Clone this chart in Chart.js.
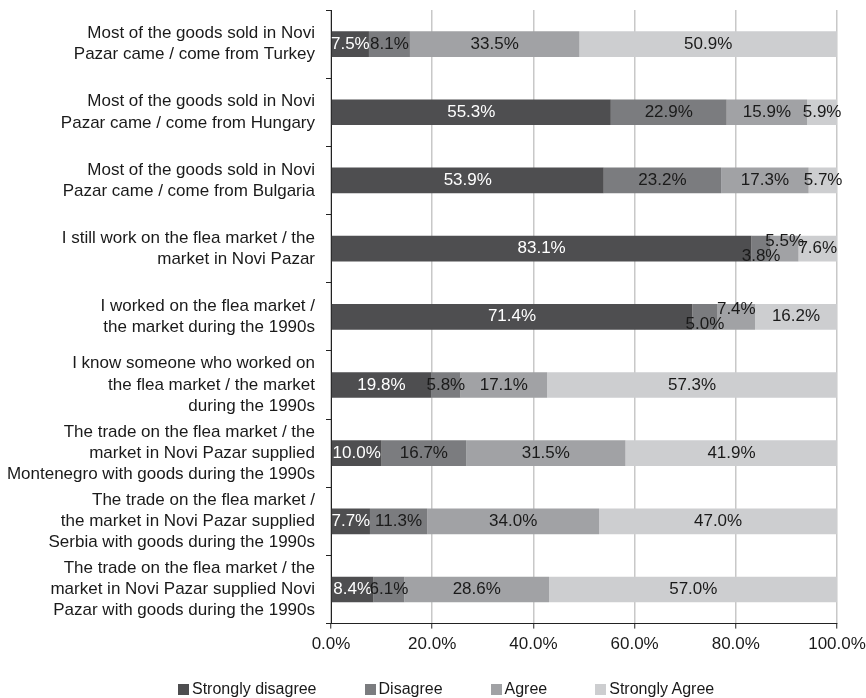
<!DOCTYPE html>
<html>
<head>
<meta charset="utf-8">
<script src="https://cdn.jsdelivr.net/npm/chart.js@4"></script>
<style>
    body { margin: 0; background: #fff; }
    #wrap { position: relative; width: 866px; height: 698px; }
    #legend {
        position: absolute; left: 178px; top: 680px;
        display: flex; gap: 48px;
        font: 16px "Liberation Sans", Arial, sans-serif; color: #1a1a1a; line-height: 18px;
    }
    #legend .item { display: flex; align-items: center; }
    #legend .box { width: 11px; height: 11px; margin-right: 3px; }
</style>
</head>
<body>
<div id="wrap">
    <canvas id="myChart" width="866" height="698"></canvas>
    <div id="legend"></div>
</div>
<script>
const categories = [
    ['Most of the goods sold in Novi', 'Pazar came / come from Turkey'],
    ['Most of the goods sold in Novi', 'Pazar came / come from Hungary'],
    ['Most of the goods sold in Novi', 'Pazar came / come from Bulgaria'],
    ['I still work on the flea market / the', 'market in Novi Pazar'],
    ['I worked on the flea market /', 'the market during the 1990s'],
    ['I know someone who worked on', 'the flea market / the market', 'during the 1990s'],
    ['The trade on the flea market / the', 'market in Novi Pazar supplied', 'Montenegro with goods during the 1990s'],
    ['The trade on the flea market /', 'the market in Novi Pazar supplied', 'Serbia with goods during the 1990s'],
    ['The trade on the flea market / the', 'market in Novi Pazar supplied Novi', 'Pazar with goods during the 1990s']
];
const seriesNames = ['Strongly disagree', 'Disagree', 'Agree', 'Strongly Agree'];
const stronglyDisagree = [7.5, 55.3, 53.9, 83.1, 71.4, 19.8, 10.0, 7.7, 8.4];
const disagree = [8.1, 22.9, 23.2, 3.8, 5.0, 5.8, 16.7, 11.3, 6.1];
const agree = [33.5, 15.9, 17.3, 5.5, 7.4, 17.1, 31.5, 34.0, 28.6];
const stronglyAgree = [50.9, 5.9, 5.7, 7.6, 16.2, 57.3, 41.9, 47.0, 57.0];
const xTickValues = [0, 20, 40, 60, 80, 100];

const colors = ['#4e4e50', '#7b7c7f', '#a1a2a5', '#cdced0'];
const FONT = '"Liberation Sans", Arial, sans-serif';

// value labels in the middle of each segment; small neighbouring segments get nudged apart
const barLabels = {
    id: 'barLabels',
    afterDatasetsDraw(chart) {
        const ctx = chart.ctx;
        ctx.save();
        ctx.font = '17px ' + FONT;
        ctx.textAlign = 'center';
        ctx.textBaseline = 'middle';
        chart.data.datasets.forEach((ds, di) => {
            chart.getDatasetMeta(di).data.forEach((bar, i) => {
                let y = bar.y;
                const crowded = disagree[i] < 8 && agree[i] < 8;
                if (crowded && di === 1) y += 8;
                if (crowded && di === 2) y -= 7;
                ctx.fillStyle = di === 0 ? '#ffffff' : '#1a1a1a';
                ctx.fillText(ds.data[i].toFixed(1) + '%', (bar.x + bar.base) / 2, y);
            });
        });
        ctx.restore();
    }
};

const seriesData = [stronglyDisagree, disagree, agree, stronglyAgree];

const ctx = document.getElementById('myChart').getContext('2d');
const myChart = new Chart(ctx, {
    type: 'bar',
    data: {
        labels: categories,
        datasets: seriesNames.map((name, i) => ({
            label: name,
            data: seriesData[i],
            backgroundColor: colors[i],
            borderWidth: 0
        }))
    },
    options: {
        indexAxis: 'y',
        responsive: false,
        animation: false,
        categoryPercentage: 1,
        barPercentage: 0.377,
        layout: { padding: { top: 10, bottom: 37, left: 0, right: 0 } },
        plugins: {
            legend: { display: false },
            tooltip: { enabled: false }
        },
        scales: {
            x: {
                stacked: true,
                min: 0,
                max: 100,
                afterBuildTicks: scale => { scale.ticks = xTickValues.map(v => ({ value: v })); },
                afterFit: scale => {
                    scale.paddingLeft = 0;
                    scale.paddingRight = 29;
                },
                ticks: {
                    callback: v => v.toFixed(1) + '%',
                    color: '#1a1a1a',
                    font: { family: FONT, size: 17 },
                    padding: 6
                },
                grid: {
                    color: '#c8c8c8',
                    lineWidth: 1.5,
                    tickColor: '#222',
                    tickLength: 5,
                    tickWidth: 1
                },
                border: { color: '#222', width: 1 }
            },
            y: {
                stacked: true,
                afterFit: scale => {
                    scale.width = 331;
                    scale.paddingTop = 0;
                    scale.paddingBottom = 0;
                },
                ticks: {
                    autoSkip: false,
                    color: '#1a1a1a',
                    font: { family: FONT, size: 17, lineHeight: 1.25 },
                    padding: 11
                },
                grid: {
                    offset: true,
                    drawOnChartArea: false,
                    tickColor: '#222',
                    tickLength: 5,
                    tickWidth: 1
                },
                border: { color: '#222', width: 1 }
            }
        }
    },
    plugins: [barLabels]
});

const legendEl = document.getElementById('legend');
legendEl.innerHTML = seriesNames.map((name, i) =>
    `<span class="item"><span class="box" style="background:${colors[i]}"></span>${name}</span>`
).join('');
</script>
</body>
</html>
